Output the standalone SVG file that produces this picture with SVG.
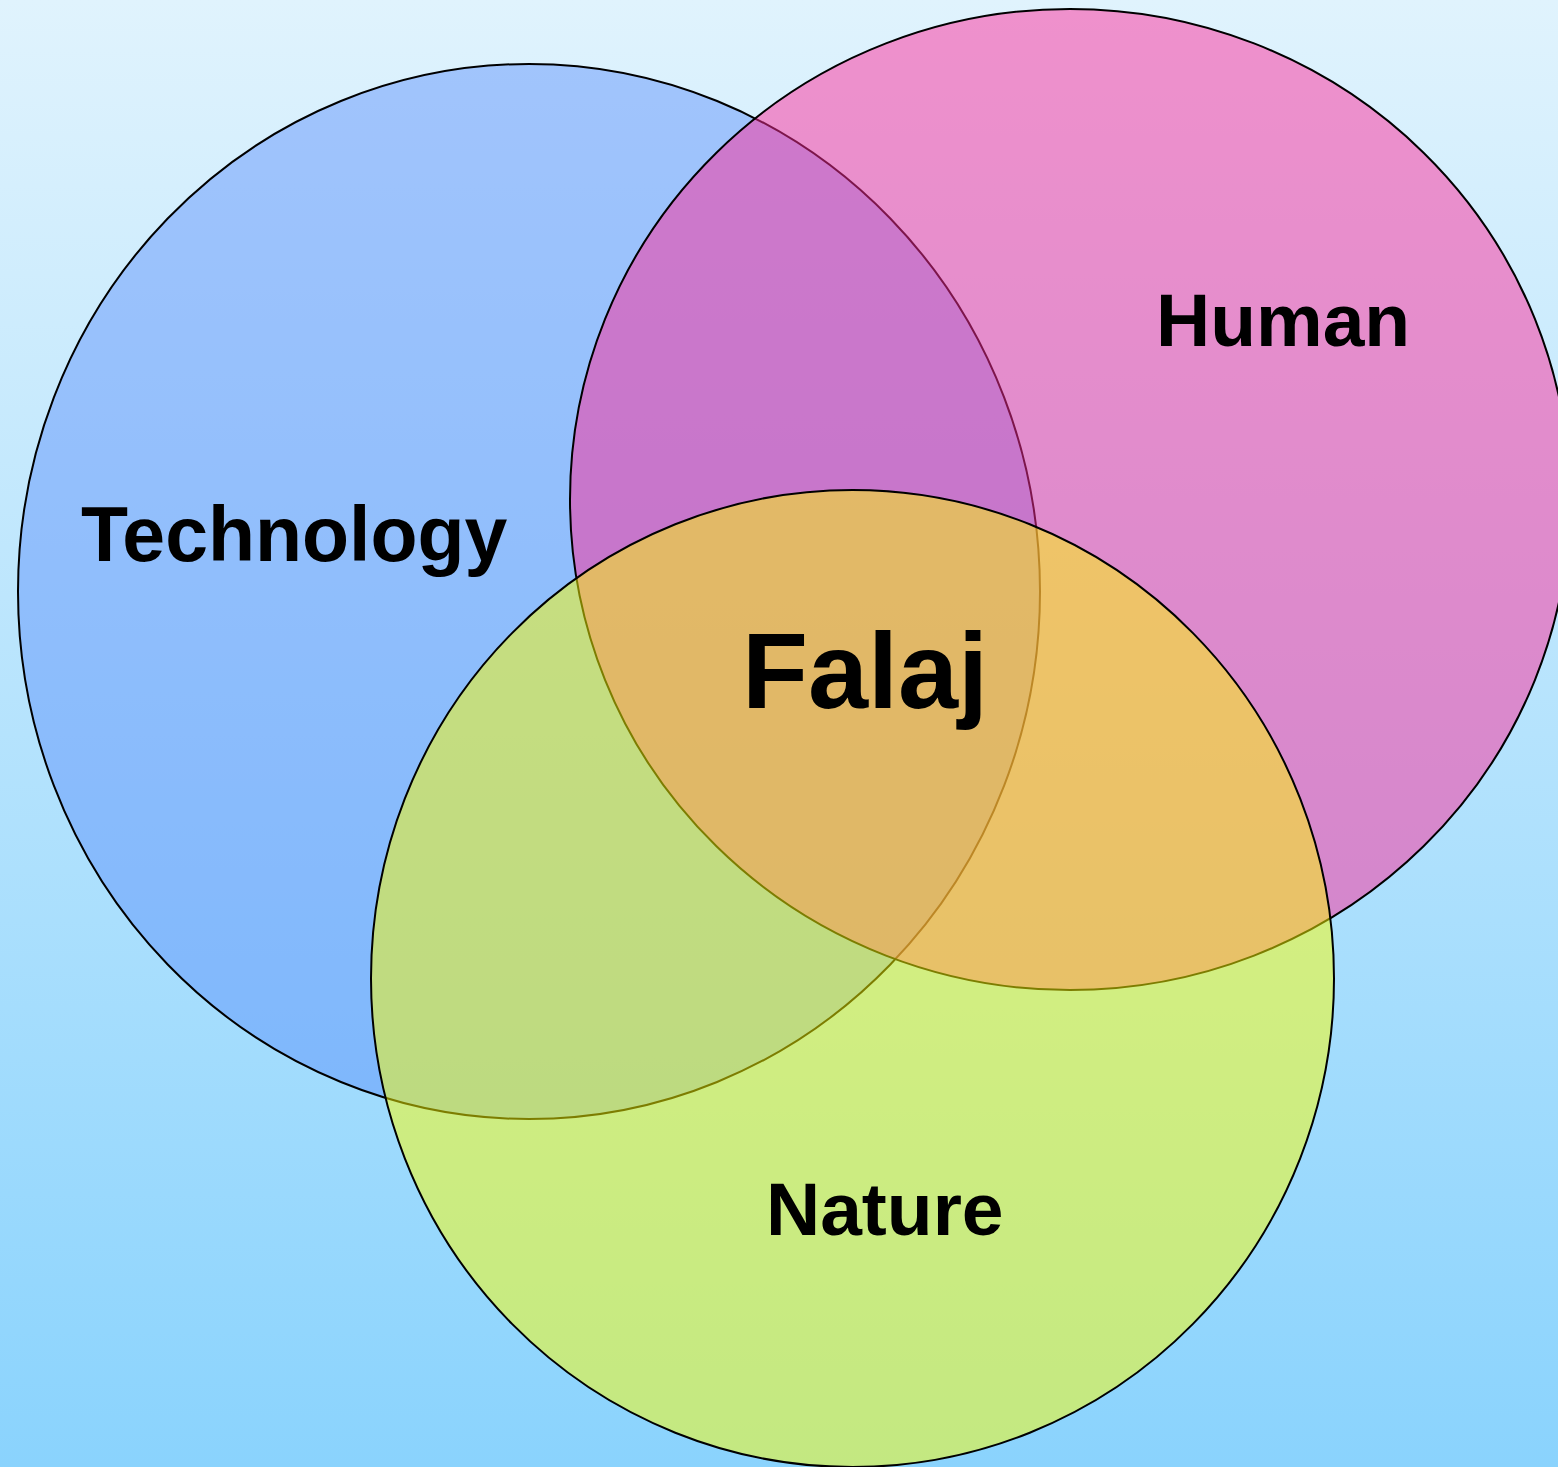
<svg xmlns="http://www.w3.org/2000/svg" width="1558" height="1467" viewBox="0 0 1558 1467">
  <defs>
    <linearGradient id="bg" x1="0" y1="0" x2="0" y2="1">
      <stop offset="0" stop-color="#e0f3fd"/>
      <stop offset="1" stop-color="#8ad3fd"/>
    </linearGradient>
  </defs>
  <style>
    .c { stroke: #000; stroke-width: 2; }
    .t { font-family: "Liberation Sans", Arial, sans-serif; font-weight: bold; fill: #000; }
  </style>
  <rect x="0" y="0" width="1558" height="1467" fill="url(#bg)"/>
  <g id="technology">
    <ellipse class="c" cx="529" cy="591.5" rx="511" ry="527.5" fill="#5388fb" fill-opacity="0.43"/>
  </g>
  <g id="human">
    <ellipse class="c" cx="1070" cy="499.5" rx="500" ry="490.5" fill="#ff2b99" fill-opacity="0.49"/>
  </g>
  <g id="nature">
    <ellipse class="c" cx="852.5" cy="978.5" rx="481.5" ry="488.5" fill="#ffff00" fill-opacity="0.49"/>
  </g>
  <g id="labels">
    <text class="t" x="81" y="561" font-size="77">Technology</text>
    <text class="t" x="1156" y="346" font-size="75">Human</text>
    <text class="t" x="766" y="1235" font-size="75">Nature</text>
    <text class="t" x="742" y="708" font-size="108">Falaj</text>
  </g>
</svg>
